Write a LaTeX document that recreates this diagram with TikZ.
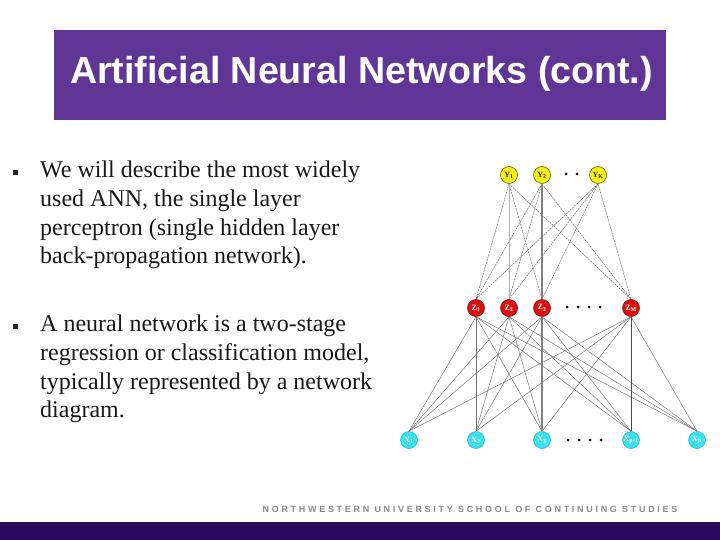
\documentclass[tikz,border=0pt]{standalone}
\usepackage{fontspec}
\setmainfont{Liberation Serif}
\setsansfont{Liberation Sans}
\newfontfamily\footfont[LetterSpace=30]{Liberation Sans Bold}
\definecolor{titlepurple}{HTML}{5F3696}
\definecolor{barpurple}{HTML}{2A0A5C}
\definecolor{footgray}{HTML}{8A8A8A}
\definecolor{nodeyellow}{HTML}{F5EE1A}
\definecolor{nodered}{HTML}{DD1010}
\definecolor{nodecyan}{HTML}{3BE0EE}
\definecolor{edgegray}{HTML}{707070}
\tikzset{
  neuron/.style={circle,minimum size=17pt,inner sep=0pt,line width=0.6pt,font=\bfseries\fontsize{8}{8}\selectfont},
  ynode/.style={neuron,fill=nodeyellow,draw=black!60!nodeyellow,text=black!80},
  znode/.style={neuron,fill=nodered,draw=black!40!nodered,text=white},
  xnode/.style={neuron,fill=nodecyan,draw=black!15!nodecyan,text=white},
  yzedge/.style={edgegray,line width=0.5pt,dash pattern=on 2pt off 0.8pt},
  zxedge/.style={edgegray,line width=0.45pt},
  thickedge/.style={gray,line width=1.6pt},
  bodytext/.style={anchor=north west,inner sep=0pt,align=left,font=\fontsize{24}{28.7}\selectfont,text=black!90},
  bulletmark/.style={fill=black!85,minimum size=5pt,inner sep=0pt},
  dotmark/.style={circle,fill=black,minimum size=3pt,inner sep=0pt}
}
\begin{document}
\begin{tikzpicture}[x=1pt,y=-1pt]
\useasboundingbox (0,0) rectangle (720,540);
% title
\node[fill=titlepurple,minimum width=612pt,minimum height=90pt,inner sep=0pt,anchor=north west] (titlebox) at (54,30) {};
\node[text=white,font=\sffamily\bfseries\fontsize{37.6}{38}\selectfont,inner sep=0pt] (title) at (361.5,73.5) {Artificial Neural Networks (cont.)};
% footer
\node[fill=barpurple,minimum width=720pt,minimum height=18pt,inner sep=0pt,anchor=north west] (bar) at (0,522) {};
\node[text=footgray,font=\footfont\fontsize{9}{9}\selectfont,inner sep=0pt] (foot) at (470,509) {NORTHWESTERN UNIVERSITY SCHOOL OF CONTINUING STUDIES};
% bullets
\node[bulletmark] (b1) at (15.5,172.5) {};
\node[bodytext] (t1) at (40,161) {We will describe the most widely\\used ANN, the single layer\\perceptron (single hidden layer\\back-propagation network).};
\node[bulletmark] (b2) at (15.5,326.5) {};
\node[bodytext] (t2) at (40,315) {A neural network is a two-stage\\regression or classification model,\\typically represented by a network\\diagram.};
% network nodes
\node[ynode] (y1) at (509,175) {Y\textsubscript{1}};
\node[ynode] (y2) at (542,175) {Y\textsubscript{2}};
\node[ynode] (yk) at (598,175) {Y\textsubscript{K}};
\node[znode] (z1) at (476,308) {Z\textsubscript{1}};
\node[znode] (z2) at (509,308) {Z\textsubscript{2}};
\node[znode] (z3) at (542,308) {Z\textsubscript{3}};
\node[znode] (zm) at (631,308) {Z\textsubscript{M}};
\node[xnode] (x1) at (409,440) {X\textsubscript{1}};
\node[xnode] (x2) at (476,440) {X\textsubscript{2}};
\node[xnode] (x3) at (542,440) {X\textsubscript{3}};
\node[xnode] (xq) at (631,440) {X\textsubscript{p-1}};
\node[xnode] (xp) at (697,440) {X\textsubscript{p}};
% ellipsis dots
\foreach \i/\x in {1/566,2/577}{ \node[dotmark] (yd\i) at (\x,174) {}; }
\foreach \i/\x in {1/567,2/578,3/589,4/600}{ \node[dotmark] (zd\i) at (\x,307) {}; }
\foreach \i/\x in {1/568,2/579,3/590,4/601}{ \node[dotmark] (xd\i) at (\x,440) {}; }
% edges
\foreach \y/\z in {y1/z1,y1/z3,y1/zm,y2/z1,y2/z2,y2/zm,yk/z1,yk/z2,yk/z3,yk/zm}{
  \draw[yzedge] (\y.south) -- (\z.north);
}
\draw[black!30,line width=0.5pt] (y1.south) -- (z2.north);
\foreach \z in {z1,z2,z3,zm}{
  \foreach \x in {x1,x2,x3,xq,xp}{
    \draw[zxedge] (\z.south) -- (\x.north);
  }
}
\draw[thickedge] (y2.south) -- (z3.north);
\draw[thickedge] (z3.south) -- (x3.north);
\draw[black!70,line width=0.8pt] (zm.south) -- (xq.north);
\end{tikzpicture}
\end{document}
